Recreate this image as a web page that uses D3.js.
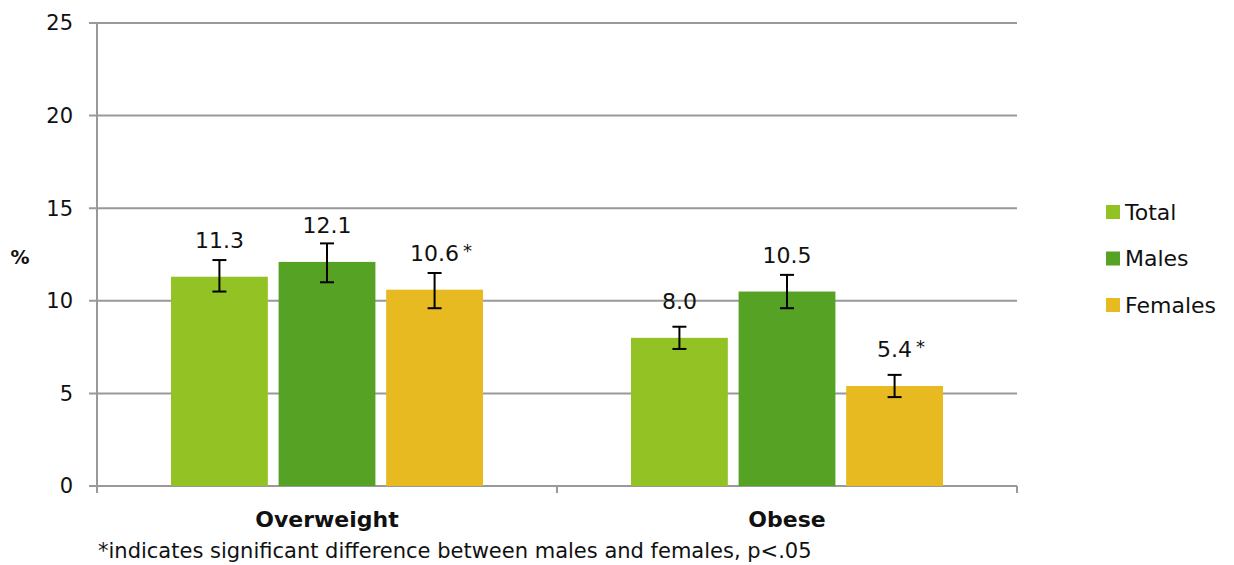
<!DOCTYPE html>
<html>
<head>
<meta charset="utf-8">
<script src="https://cdn.jsdelivr.net/npm/d3@7"></script>
<style>
  body { margin: 0; background: #fff; }
  svg { font-family: "DejaVu Sans", sans-serif; }
</style>
</head>
<body>
<svg id="chart" width="1234" height="565"></svg>
<script>
// data
const categories = ["Overweight", "Obese"];
const seriesNames = ["Total", "Males", "Females"];
const seriesColors = ["#93C225", "#55A225", "#E6BA20"];
const values = [[11.3, 12.1, 10.6], [8.0, 10.5, 5.4]];
const lower = [[10.5, 11.0, 9.6], [7.4, 9.6, 4.8]];
const upper = [[12.2, 13.1, 11.5], [8.6, 11.4, 6.0]];
const significant = [[false, false, true], [false, false, true]];
const yTicks = [0, 5, 10, 15, 20, 25];
const footnote = "*indicates significant difference between males and females, p<.05";

const svg = d3.select("#chart");
const margin = {left: 97, right: 217, top: 23, bottom: 79};
const width = 1234 - margin.left - margin.right;
const height = 565 - margin.top - margin.bottom;

const g = svg.append("g").attr("transform", `translate(${margin.left},${margin.top})`);

// scales
const x0 = d3.scaleBand().domain(categories).range([0, width]).paddingInner(0).paddingOuter(0);
const x1 = d3.scaleBand().domain(seriesNames).range([74, x0.bandwidth() - 74]).paddingInner(0.1);
const y = d3.scaleLinear().domain([0, 25]).range([height, 0]);

// gridlines
g.append("g").selectAll("line").data(yTicks).join("line")
  .attr("x1", -8).attr("x2", width)
  .attr("y1", d => y(d)).attr("y2", d => y(d))
  .attr("stroke", "#999").attr("stroke-width", 2);

// y axis line + labels
g.append("line").attr("x1", 0).attr("x2", 0).attr("y1", 0).attr("y2", height + 6)
  .attr("stroke", "#999").attr("stroke-width", 2);
g.append("g").selectAll("text").data(yTicks).join("text")
  .attr("x", -24).attr("y", d => y(d)).attr("dy", "0.35em")
  .attr("text-anchor", "end").attr("font-size", 21).attr("fill", "#111")
  .text(d => d);

// x ticks
const xTickPos = [0, x0.bandwidth(), width];
g.append("g").selectAll("line").data(xTickPos).join("line")
  .attr("x1", d => d).attr("x2", d => d).attr("y1", height).attr("y2", height + 7)
  .attr("stroke", "#999").attr("stroke-width", 2);

// bars
const groups = g.selectAll(".grp").data(categories).join("g")
  .attr("transform", d => `translate(${x0(d)},0)`);

groups.each(function(cat, ci) {
  const grp = d3.select(this);
  seriesNames.forEach((s, si) => {
    const v = values[ci][si];
    const bx = x1(s), bw = x1.bandwidth(), cx = bx + bw / 2;
    grp.append("rect").attr("x", bx).attr("y", y(v)).attr("width", bw)
      .attr("height", height - y(v)).attr("fill", seriesColors[si]);
    // error bar
    const eb = grp.append("g").attr("stroke", "#000").attr("stroke-width", 2);
    eb.append("line").attr("x1", cx).attr("x2", cx).attr("y1", y(upper[ci][si])).attr("y2", y(lower[ci][si]));
    eb.append("line").attr("x1", cx - 7).attr("x2", cx + 7).attr("y1", y(upper[ci][si])).attr("y2", y(upper[ci][si]));
    eb.append("line").attr("x1", cx - 7).attr("x2", cx + 7).attr("y1", y(lower[ci][si])).attr("y2", y(lower[ci][si]));
    // label
    const ly = y(v) - 29;
    const lab = grp.append("text").attr("x", cx).attr("y", ly).attr("text-anchor", "middle")
      .attr("font-size", 22).attr("fill", "#111").text(v.toFixed(1));
    if (significant[ci][si]) {
      const w = lab.node().getComputedTextLength();
      grp.append("text").attr("x", cx + w / 2 + 4).attr("y", ly - 4)
        .attr("font-size", 18).attr("fill", "#111").text("*");
    }
  });
});

// category labels
g.append("g").selectAll("text").data(categories).join("text")
  .attr("x", d => x0(d) + x0.bandwidth() / 2).attr("y", height + 41)
  .attr("text-anchor", "middle").attr("font-size", 22).attr("font-weight", "bold").attr("fill", "#111")
  .text(d => d);

// footnote
svg.append("text").attr("x", 98).attr("y", 558).attr("font-size", 21).attr("fill", "#111").text(footnote);

// y title
svg.append("text").attr("x", 20).attr("y", 264).attr("text-anchor", "middle")
  .attr("font-size", 19).attr("font-weight", "bold").attr("fill", "#111").text("%");

// legend
const legend = svg.append("g").attr("transform", "translate(1106,212)");
seriesNames.forEach((s, i) => {
  const row = legend.append("g").attr("transform", `translate(0,${i * 46.5})`);
  row.append("rect").attr("x", 0).attr("y", -7).attr("width", 14).attr("height", 14).attr("fill", seriesColors[i]);
  row.append("text").attr("x", 19).attr("y", 0).attr("dy", "0.35em").attr("font-size", 22).attr("fill", "#111").text(s);
});
</script>
</body>
</html>
